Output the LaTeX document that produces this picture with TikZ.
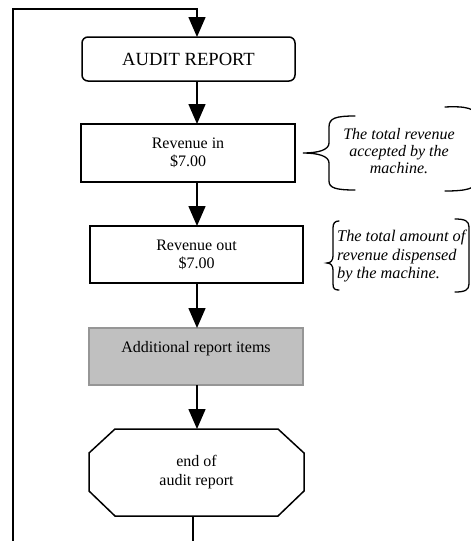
\documentclass[tikz,border=0pt]{standalone}
\usepackage{fontspec}
\setmainfont{Liberation Serif}
\usetikzlibrary{arrows.meta,calc}
\definecolor{itemgray}{RGB}{192,192,192}
\definecolor{itemedge}{RGB}{150,150,150}
\begin{document}
\begin{tikzpicture}[x=1pt,y=-1pt,
  line/.style={line width=1.5pt},
  flow/.style={line, -{Triangle[length=20pt,width=17pt]}},
  box/.style={draw, line width=1.5pt, inner sep=0pt, outer sep=0pt,
    align=center, font=\fontsize{16}{18}\selectfont},
  bracket/.style={line width=1.3pt, line cap=round},
  note/.style={inner sep=0pt, font=\fontsize{16}{17}\selectfont\itshape}]
\useasboundingbox (0,0) rectangle (471,541);

% process boxes
\node[box, rounded corners=6pt, minimum width=213, minimum height=44,
      font=\fontsize{18.6}{21}\selectfont] (audit) at (188.5,59) {AUDIT REPORT};
\node[box, minimum width=214, minimum height=58] (revin) at (188,153) {Revenue in\\\$7.00};
\node[box, minimum width=213, minimum height=57] (revout) at (196.5,254.5) {Revenue out\\\$7.00};
\node[box, draw=itemedge, fill=itemgray, minimum width=214, minimum height=57] (extra) at (196,356.5) {};
\node[inner sep=0pt, font=\fontsize{16}{18}\selectfont] (extratext) at ($(extra.center)+(0,-8)$) {Additional report items};

% terminator: octagon with cut corners
\node[inner sep=0pt, outer sep=0pt, minimum width=215, minimum height=87,
      align=center, font=\fontsize{16}{19}\selectfont] (endrep) at (196.5,472.5) {end of\\audit report};
\draw[line, line join=miter]
  ($(endrep.north west)+(26,0)$) -- ($(endrep.north east)+(-26,0)$)
  -- ($(endrep.north east)+(0,24)$) -- ($(endrep.south east)+(0,-25)$)
  -- ($(endrep.south east)+(-26,0)$) -- ($(endrep.south west)+(26,0)$)
  -- ($(endrep.south west)+(0,-25)$) -- ($(endrep.north west)+(0,24)$) -- cycle;

% flow connectors
\coordinate (ax) at (197,0);
\coordinate (topturn) at (197,9);
\coordinate (loopin) at (13,541);
\coordinate (loopout) at (193,541);
\draw[flow] (loopin) |- (topturn) -- (audit.north -| ax);
\draw[flow] (audit.south -| ax) -- (revin.north -| ax);
\draw[flow] (revin.south -| ax) -- (revout.north -| ax);
\draw[flow] (revout.south -| ax) -- (extra.north -| ax);
\draw[flow] (extra.south -| ax) -- ($(endrep.north)+(0.5,0)$);
\draw[line] (endrep.south -| loopout) -- (loopout);

% annotations
\begin{scope}
\clip (0,0) rectangle (471,541);
\draw[bracket] (355,116) .. controls (336,116) and (329,118) .. (329,127)
  -- (329,143) .. controls (329,150) and (318,153) .. (303,153)
  .. controls (318,153) and (329,156) .. (329,163)
  -- (329,181) .. controls (329,188) and (336,190) .. (355,190);
\draw[bracket] (445,107) .. controls (465,106) and (477,108) .. (477,118)
  -- (477,180) .. controls (477,189) and (465,191) .. (445,191);
\end{scope}
\node[note, align=center] (note1) at (399,151) {The total revenue\\accepted by the\\machine.};

\draw[bracket] (339,221) .. controls (335,221) and (333,223) .. (333,228)
  -- (333,256) .. controls (333,260) and (331,263) .. (327,263)
  .. controls (331,263) and (333,266) .. (333,270)
  -- (333,284) .. controls (333,289) and (335,290) .. (339,290);
\draw[bracket] (455,219) .. controls (465,219) and (469,221) .. (469,227)
  -- (469,284) .. controls (469,290) and (465,292) .. (455,292);
\node[note, align=left, anchor=west, font=\fontsize{16.3}{18.5}\selectfont\itshape] (note2) at (337,256.5) {The total amount of\\revenue dispensed\\by the machine.};
\end{tikzpicture}
\end{document}
